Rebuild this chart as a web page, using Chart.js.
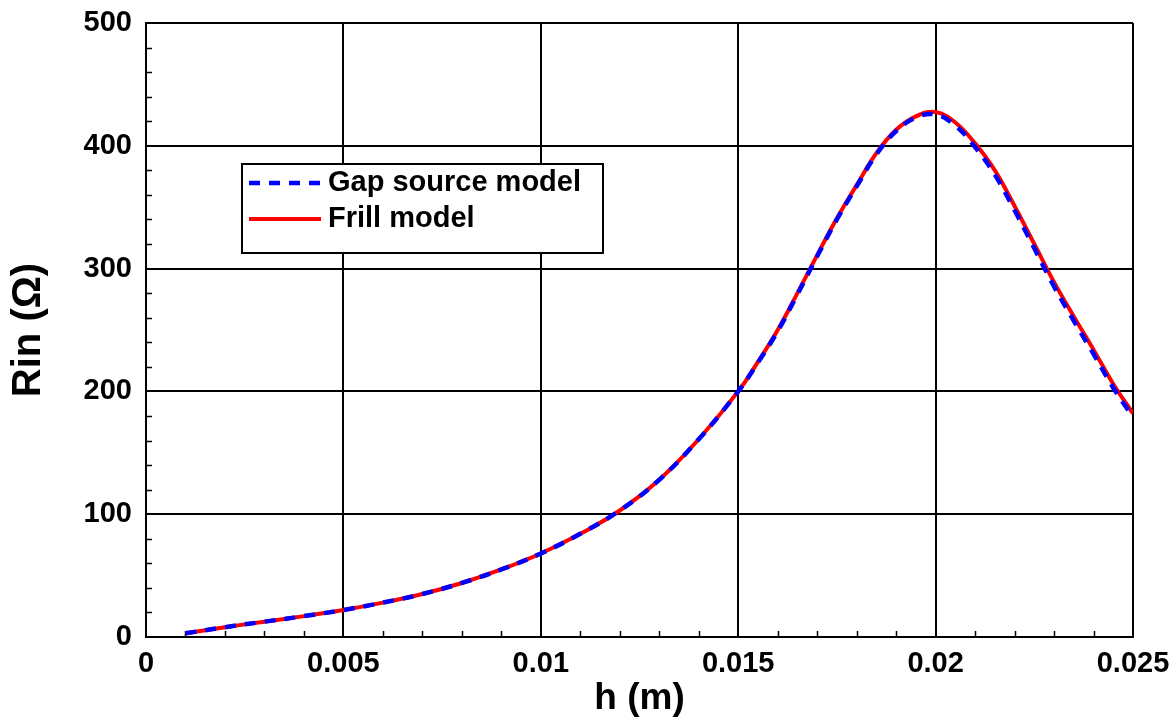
<!DOCTYPE html>
<html>
<head>
<meta charset="utf-8">
<script src="https://cdn.jsdelivr.net/npm/chart.js@4.4.1/dist/chart.umd.min.js"></script>
<style>
  html, body { margin: 0; padding: 0; background: #fff; }
  #wrap { width: 1175px; height: 717px; position: relative; }
</style>
</head>
<body>
<div id="wrap"><canvas id="chart"></canvas></div>
<script>
"use strict";

/* ---------- data ---------- */
const hVals = [0.001, 0.002, 0.003, 0.004, 0.005, 0.006, 0.007, 0.008, 0.009, 0.010,
  0.011, 0.012, 0.013, 0.014, 0.015, 0.0155, 0.016, 0.0165, 0.017, 0.0175, 0.018,
  0.0185, 0.019, 0.0195, 0.020, 0.0205, 0.021, 0.0215, 0.022, 0.0225, 0.023,
  0.0235, 0.024, 0.0245, 0.025];
const gapRin = [3, 8, 12.5, 17, 22, 28, 35, 44, 55, 68,
  84, 103, 128, 161, 200, 223.5, 249, 279, 310, 340, 367,
  393, 412, 423, 425.5, 416.5, 399, 376.5, 347.5, 316.5, 285.5,
  257.5, 230.5, 203, 179];
const frillRin = [3, 8, 12.5, 17, 22, 28, 35, 44, 55, 68,
  84, 103, 128, 161, 200, 224, 250, 280, 311, 341, 368,
  394, 413, 424, 427.5, 419, 402, 380, 351, 320, 289,
  261, 234, 206, 182];
const seriesNames = ["Gap source model", "Frill model"];
const xTitle = "h (m)";
const yTitle = "Rin (\u03A9)";

const X_MAJOR = 0.005, X_MINOR = 0.001;
const Y_MAJOR = 100, Y_MINOR = 20;

const isMajor = (v, step) => Math.abs(v / step - Math.round(v / step)) < 1e-6;
const pts = ys => hVals.map((h, i) => ({ x: h, y: ys[i] }));

Chart.defaults.font.family = "'Liberation Sans', Arial, sans-serif";
Chart.defaults.font.weight = "bold";
Chart.defaults.color = "#000";

/* ---------- inward minor ticks ---------- */
const minorTicks = {
  id: "minorTicks",
  beforeDatasetsDraw(chart) {
    const { ctx, chartArea: a, scales: { x, y } } = chart;
    ctx.save();
    ctx.strokeStyle = "#000";
    ctx.lineWidth = 1.5;
    ctx.beginPath();
    x.ticks.forEach(t => {
      if (isMajor(t.value, X_MAJOR)) return;
      const px = Math.round(x.getPixelForValue(t.value)) + 0.5;
      ctx.moveTo(px, a.bottom); ctx.lineTo(px, a.bottom - 6);
    });
    y.ticks.forEach(t => {
      if (isMajor(t.value, Y_MAJOR)) return;
      const py = Math.round(y.getPixelForValue(t.value)) + 0.5;
      ctx.moveTo(a.left, py); ctx.lineTo(a.left + 6, py);
    });
    ctx.stroke();
    ctx.restore();
  }
};

/* ---------- boxed legend inside the plot ---------- */
const boxLegend = {
  id: "boxLegend",
  afterDraw(chart) {
    const { ctx, chartArea: a } = chart;
    const bx = a.left + 96, by = a.top + 141, bw = 361, bh = 89;
    ctx.save();
    ctx.fillStyle = "#fff";
    ctx.fillRect(bx, by, bw, bh);
    ctx.strokeStyle = "#000";
    ctx.lineWidth = 2;
    ctx.strokeRect(bx, by, bw, bh);
    ctx.font = "bold 29px 'Liberation Sans', Arial, sans-serif";
    ctx.textBaseline = "middle";
    chart.data.datasets.forEach((ds, i) => {
      const ly = by + 19 + i * 36;
      ctx.beginPath();
      ctx.strokeStyle = ds.borderColor;
      ctx.lineWidth = ds.borderWidth;
      ctx.setLineDash(ds.borderDash || []);
      ctx.moveTo(bx + 7, ly); ctx.lineTo(bx + 79, ly);
      ctx.stroke();
      ctx.setLineDash([]);
      ctx.fillStyle = "#000";
      ctx.fillText(ds.label, bx + 86, ly);
    });
    ctx.restore();
  }
};

const gridColor = step => c => (c.tick && isMajor(c.tick.value, step)) ? "#000" : "rgba(0,0,0,0)";

new Chart(document.getElementById("chart"), {
  type: "line",
  data: {
    datasets: [
      { label: seriesNames[0], data: pts(gapRin), borderColor: "#0000ff", borderWidth: 4.5,
        borderDash: [11, 9], pointRadius: 0, tension: 0.4, fill: false },
      { label: seriesNames[1], data: pts(frillRin), borderColor: "#ff0000", borderWidth: 4,
        pointRadius: 0, tension: 0.4, fill: false }
    ]
  },
  options: {
    animation: false, responsive: true, maintainAspectRatio: false,
    layout: { padding: { left: 0, right: 42, top: 23, bottom: 0 } },
    plugins: { legend: { display: false }, tooltip: { enabled: false } },
    scales: {
      x: {
        type: "linear", min: 0, max: 0.025,
        border: { color: "#000", width: 2 },
        grid: { color: gridColor(X_MAJOR), lineWidth: 2, drawTicks: false },
        ticks: { stepSize: X_MINOR, autoSkip: false, maxRotation: 0, padding: 10,
          font: { size: 29, weight: "bold" },
          callback: v => isMajor(v, X_MAJOR) ? String(parseFloat(v.toFixed(4))) : "" },
        title: { display: true, text: xTitle, font: { size: 37, weight: "bold", lineHeight: 1 },
          padding: { top: 0, bottom: 0 } },
        afterFit: s => { s.height = 80; s.paddingLeft = 0; s.paddingRight = 0; }
      },
      y: {
        min: 0, max: 500,
        border: { color: "#000", width: 2 },
        grid: { color: gridColor(Y_MAJOR), lineWidth: 2, drawTicks: false },
        ticks: { stepSize: Y_MINOR, autoSkip: false, padding: 14,
          font: { size: 29, weight: "bold" },
          callback: v => isMajor(v, Y_MAJOR) ? String(v) : "" },
        title: { display: true, text: yTitle, font: { size: 40, weight: "bold", lineHeight: 1 },
          padding: { top: 9, bottom: 0 } },
        afterFit: s => { s.width = 146; s.paddingTop = 0; s.paddingBottom = 0; }
      }
    }
  },
  plugins: [minorTicks, boxLegend]
});
</script>
</body>
</html>
